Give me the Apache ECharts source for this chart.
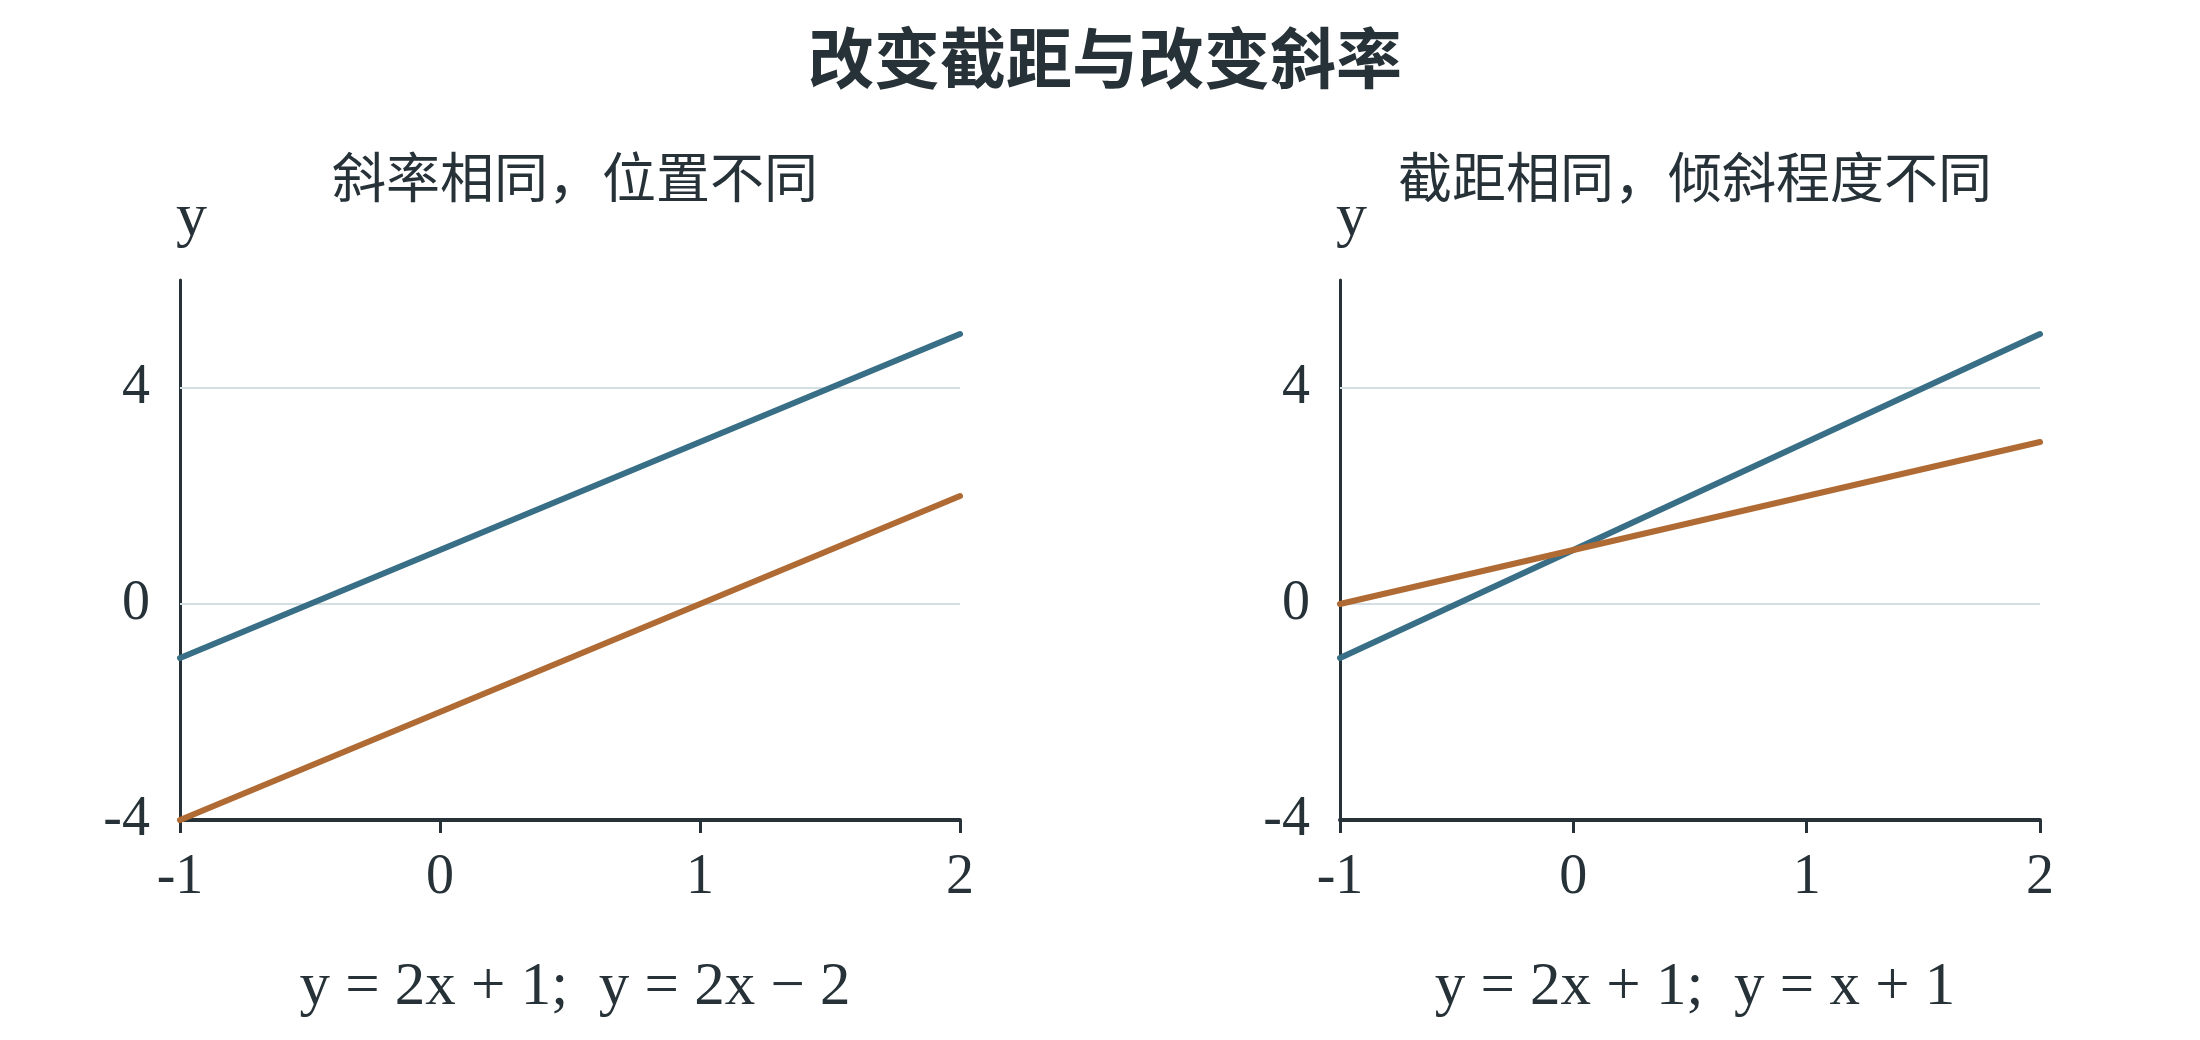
<!DOCTYPE html>
<html><head><meta charset="utf-8">
<script src="https://cdn.jsdelivr.net/npm/echarts@6/dist/echarts.min.js"></script>
<style>html,body{margin:0;padding:0;background:#fff}#c{width:2200px;height:1040px}</style>
</head><body><div id="c"></div>
<script>
const mainTitle = '改变截距与改变斜率';
const panelTitles = ['斜率相同，位置不同', '截距相同，倾斜程度不同'];
const captions = ['y = 2x + 1;  y = 2x − 2', 'y = 2x + 1;  y = x + 1'];
const xValues = [-1, 0, 1, 2];
const leftBlue = [-1, 1, 3, 5];     // y = 2x + 1
const leftOrange = [-4, -2, 0, 2];  // y = 2x - 2
const rightBlue = [-1, 1, 3, 5];    // y = 2x + 1
const rightOrange = [0, 1, 2, 3];   // y = x + 1
const yTicks = [-4, 0, 4];
const gridLineValues = [0, 4];

const dark = '#263238';
const blue = '#386f86';
const orange = '#b06a33';
const serif = '"Liberation Serif", "Noto Sans CJK SC", serif';
const cjk = '"Noto Sans CJK SC", "Liberation Serif", serif';

const grids = [
  {left: 180, top: 280, width: 780, height: 540},
  {left: 1340, top: 280, width: 700, height: 540}
];
const centers = [570, 1690];

function xAxis(i){
  return {
    type:'value', gridIndex:i, min:-1, max:2, interval:1,
    axisLine:{show:true, onZero:false, lineStyle:{color:dark, width:4}},
    axisTick:{show:true, length:13, lineStyle:{color:dark, width:3}},
    axisLabel:{color:dark, fontFamily:serif, fontSize:56, margin:30},
    splitLine:{show:false}
  };
}
function yAxis(i){
  return {
    type:'value', gridIndex:i, min:-4, max:6, interval:4,
    name:'y', nameLocation:'end', nameGap:30,
    nameTextStyle:{color:dark, fontFamily:serif, fontSize:62, align:'left', verticalAlign:'bottom', padding:[0,0,0,-4]},
    axisLine:{show:true, onZero:false, lineStyle:{color:dark, width:3}},
    axisTick:{show:false},
    axisLabel:{color:dark, fontFamily:serif, fontSize:56, margin:30,
      formatter: v => yTicks.indexOf(v) >= 0 ? String(v) : ''},
    splitLine:{show:false}
  };
}
function line(data, color, i, withGrid){
  const s = {
    type:'line', xAxisIndex:i, yAxisIndex:i,
    data: xValues.map((x,k)=>[x, data[k]]),
    showSymbol:false, symbol:'none',
    lineStyle:{color, width:6, cap:'round'},
    itemStyle:{color}, silent:true, animation:false, z:3
  };
  if (withGrid) {
    s.markLine = {
      silent:true, symbol:['none','none'], animation:false,
      label:{show:false},
      lineStyle:{color:'#d3dfe3', width:2, type:'solid'},
      z:1,
      data: gridLineValues.map(v => ({yAxis:v}))
    };
  }
  return s;
}

const chart = echarts.init(document.getElementById('c'), null, {renderer:'canvas'});
chart.setOption({
  backgroundColor:'#ffffff',
  animation:false,
  title:[
    {text:mainTitle, left:1100, top:20, textAlign:'center',
      textStyle:{color:dark, fontSize:66, fontWeight:'bold', fontFamily:'"Noto Sans CJK SC", sans-serif'}},
    {text:panelTitles[0], left:centers[0], top:145, textAlign:'center',
      textStyle:{color:dark, fontSize:54, fontWeight:'normal', fontFamily:cjk}},
    {text:panelTitles[1], left:centers[1], top:145, textAlign:'center',
      textStyle:{color:dark, fontSize:54, fontWeight:'normal', fontFamily:cjk}},
    {text:captions[0], left:centers[0], top:952, textAlign:'center',
      textStyle:{color:dark, fontSize:61, fontWeight:'normal', fontFamily:serif}},
    {text:captions[1], left:centers[1], top:952, textAlign:'center',
      textStyle:{color:dark, fontSize:61, fontWeight:'normal', fontFamily:serif}}
  ],
  grid:grids,
  xAxis:[xAxis(0), xAxis(1)],
  yAxis:[yAxis(0), yAxis(1)],
  series:[
    line(leftBlue, blue, 0, true), line(leftOrange, orange, 0, false),
    line(rightBlue, blue, 1, true), line(rightOrange, orange, 1, false)
  ]
});
</script></body></html>
